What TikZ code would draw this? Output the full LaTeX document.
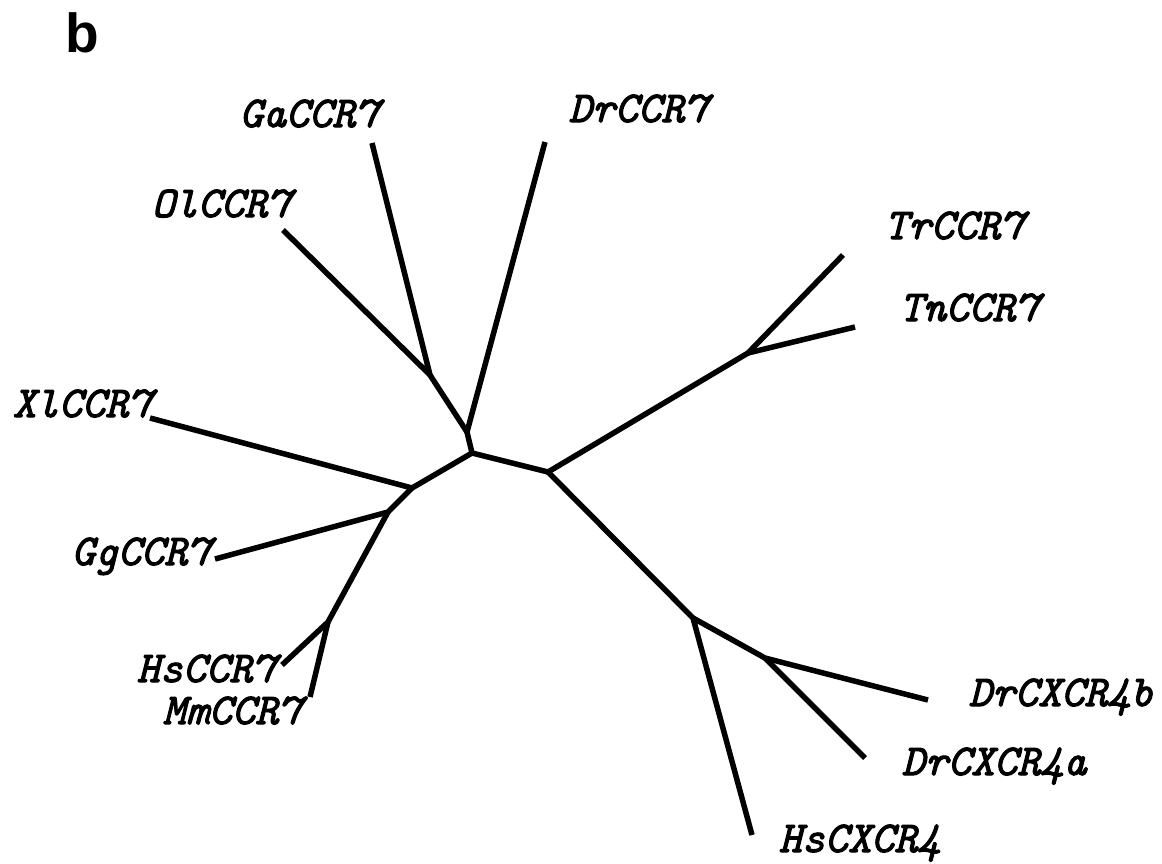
\documentclass[tikz,border=0pt]{standalone}
\usepackage{fontspec}
\newfontfamily\leaffont{lmmono10-italic.otf}[FakeBold=2.5]
\newfontfamily\panelfont{Liberation Sans}

\begin{document}
\begin{tikzpicture}[x=1pt, y=-1pt, line width=5.5pt, line join=round,
  every node/.style = {inner sep=0pt, anchor=base west,
    font=\leaffont\fontsize{44}{44}\selectfont}]
  \fill[white] (0,0) rectangle (1162,863);
  \useasboundingbox (0,0) rectangle (1162,863);

  \coordinate (n1) at (472,453);
  \coordinate (n2) at (467,432);
  \coordinate (n3) at (430,375);
  \coordinate (n4) at (548,472);
  \coordinate (n5) at (748,353);
  \coordinate (n6) at (693,618);
  \coordinate (n7) at (765,658);
  \coordinate (n8) at (412,488);
  \coordinate (n9) at (388,512);
  \coordinate (n10) at (328,622);

  \coordinate (tGa) at (372,143);
  \coordinate (tDr) at (545,142);
  \coordinate (tOl) at (283,230);
  \coordinate (tXl) at (150,418);
  \coordinate (tGg) at (215,559);
  \coordinate (tHs) at (282,665);
  \coordinate (tMm) at (310,697);
  \coordinate (tTr) at (843,255);
  \coordinate (tTn) at (855,327);
  \coordinate (tCb) at (928,700);
  \coordinate (tCa) at (865,758);
  \coordinate (tHx) at (752,835);

  \draw (tOl) -- (n3) -- (tGa);
  \draw (n3) -- (n2) -- (tDr);
  \draw (n2) -- (n1) -- (n4) -- (n5) -- (tTr);
  \draw (n5) -- (tTn);
  \draw (n4) -- (n6) -- (tHx);
  \draw (n6) -- (n7) -- (tCb);
  \draw (n7) -- (tCa);
  \draw (n1) -- (n8) -- (tXl);
  \draw (n8) -- (n9) -- (tGg);
  \draw (n9) -- (n10) -- (tHs);
  \draw (n10) -- (tMm);

  \node (b) [font=\panelfont\bfseries\fontsize{55}{55}\selectfont] at (63,52) {b};
  \node (Ga) at (237,127) {GaCCR7};
  \node (Dr) at (566,122) {DrCCR7};
  \node (Ol) at (149,217) {OlCCR7};
  \node (Xl) at (10,417) {XlCCR7};
  \node (Gg) at (69,565) {GgCCR7};
  \node (Hs) at (134,682) {HsCCR7};
  \node (Mm) at (160,724) {MmCCR7};
  \node (Tr) at (882,239) {TrCCR7};
  \node (Tn) at (897,321) {TnCCR7};
  \node (Cb) at (966,706) {DrCXCR4b};
  \node (Ca) at (899,775) {DrCXCR4a};
  \node (Hx) at (776,852) {HsCXCR4};
\end{tikzpicture}
\end{document}
